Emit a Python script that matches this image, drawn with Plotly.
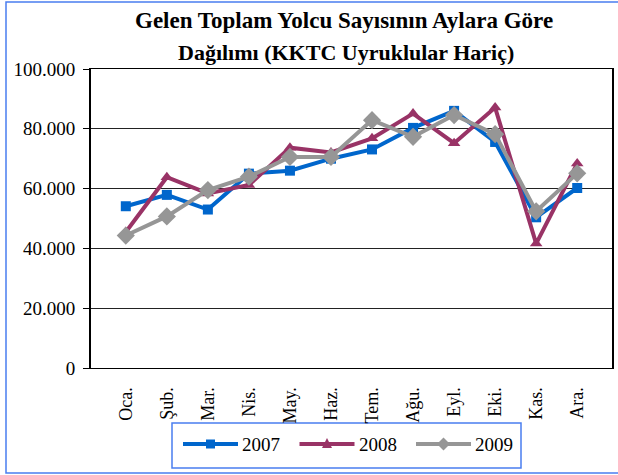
import plotly.graph_objects as go

months = ["Oca.", "Şub.", "Mar.", "Nis.", "May.", "Haz.", "Tem.", "Ağu.", "Eyl.", "Eki.", "Kas.", "Ara."]
y2007 = [54100, 57900, 53000, 65000, 66000, 70000, 73100, 80300, 86000, 75600, 50400, 60200]
y2008 = [45500, 63800, 58400, 61200, 73700, 72100, 76800, 85100, 75200, 87100, 41600, 68400]
y2009 = [44300, 50700, 59500, 64000, 70600, 70600, 82900, 77300, 84600, 78200, 52400, 65100]
series_names = ["2007", "2008", "2009"]
y_ticks = [0, 20000, 40000, 60000, 80000, 100000]
title_line1 = "<b>Gelen Toplam Yolcu Sayısının Aylara Göre</b>"
title_line2 = "<b>Dağılımı (KKTC Uyruklular Hariç)</b>"

colors = ["#0066CC", "#993366", "#969696"]
symbols = ["square", "triangle-up", "diamond"]
sizes = [10, 11, 14]
values = [y2007, y2008, y2009]

FONT = "Liberation Serif"
BORDER = "#4A7EF0"

fig = go.Figure()
for name, vals, col, sym, sz in zip(series_names, values, colors, symbols, sizes):
    fig.add_trace(go.Scatter(
        x=months, y=vals, name=name, mode="lines+markers",
        line=dict(color=col, width=4),
        marker=dict(symbol=sym, size=sz, color=col),
        showlegend=False,
    ))

W, H = 618, 475
L, R, T, B = 91, 6, 69, 107
pw, ph = W - L - R, H - T - B

def px(x):
    return (x - L) / pw

def py(y):
    return (H - B - y) / ph

shapes = [
    dict(type="rect", xref="paper", yref="paper",
         x0=px(6), x1=px(640), y0=py(473), y1=py(2),
         line=dict(color=BORDER, width=1.5), layer="below"),
    dict(type="rect", xref="paper", yref="paper",
         x0=px(172), x1=px(521), y0=py(468), y1=py(423),
         line=dict(color=BORDER, width=1.5), layer="below"),
]
annotations = [
    dict(text=title_line1, xref="paper", yref="paper",
         x=px(344), y=py(20.8), xanchor="center", yanchor="middle",
         showarrow=False, font=dict(size=23, family=FONT, color="black")),
    dict(text=title_line2, xref="paper", yref="paper",
         x=px(346), y=py(52.6), xanchor="center", yanchor="middle",
         showarrow=False, font=dict(size=22, family=FONT, color="black")),
]

# manual legend (layout only)
leg_y = 444
leg_x0 = [183, 299.5, 416]
leg_len = 55
for i, (name, col, sym) in enumerate(zip(series_names, colors, symbols)):
    x0 = leg_x0[i]
    x1 = x0 + leg_len
    cx = (x0 + x1) / 2
    shapes.append(dict(type="line", xref="paper", yref="paper",
                       x0=px(x0), x1=px(x1), y0=py(leg_y), y1=py(leg_y),
                       line=dict(color=col, width=4)))
    if sym == "square":
        s = 4.5
        shapes.append(dict(type="rect", xref="paper", yref="paper",
                           x0=px(cx - s), x1=px(cx + s), y0=py(leg_y + s), y1=py(leg_y - s),
                           fillcolor=col, line=dict(width=0)))
    elif sym == "triangle-up":
        s = 5
        path = "M {} {} L {} {} L {} {} Z".format(
            px(cx - s), py(leg_y + 4), px(cx + s), py(leg_y + 4), px(cx), py(leg_y - 6))
        shapes.append(dict(type="path", xref="paper", yref="paper", path=path,
                           fillcolor=col, line=dict(width=0)))
    else:
        s = 6.5
        path = "M {} {} L {} {} L {} {} L {} {} Z".format(
            px(cx - s), py(leg_y), px(cx), py(leg_y - s), px(cx + s), py(leg_y), px(cx), py(leg_y + s))
        shapes.append(dict(type="path", xref="paper", yref="paper", path=path,
                           fillcolor=col, line=dict(width=0)))
    annotations.append(dict(text=name, xref="paper", yref="paper",
                            x=px(x1 + 2), y=py(leg_y), xanchor="left", yanchor="middle",
                            showarrow=False, font=dict(size=19, family=FONT, color="black")))

fig.update_layout(
    width=W, height=H,
    margin=dict(l=L, r=R, t=T, b=B, pad=0, autoexpand=False),
    paper_bgcolor="white", plot_bgcolor="white",
    separators=",.",
    font=dict(family=FONT, size=16, color="black"),
    showlegend=False,
    annotations=annotations,
    shapes=shapes,
)

fig.update_xaxes(
    type="category", tickangle=-90, showgrid=False,
    showline=True, linecolor="black", linewidth=1, mirror=True,
    ticks="", ticklabelstandoff=11, tickfont=dict(size=18, family=FONT),
)
fig.update_yaxes(
    range=[0, 100000], tickvals=y_ticks, tickformat=",d",
    showgrid=True, gridcolor="#222222", gridwidth=1,
    showline=True, linecolor="black", linewidth=2, mirror=True,
    ticks="outside", ticklen=6, tickcolor="black", tickwidth=1,
    ticklabelstandoff=4, tickfont=dict(size=19, family=FONT),
    zeroline=False,
)

fig.write_html("out.html", config={"displayModeBar": False},
               post_script="document.body.style.margin='0';document.body.style.padding='0';")
